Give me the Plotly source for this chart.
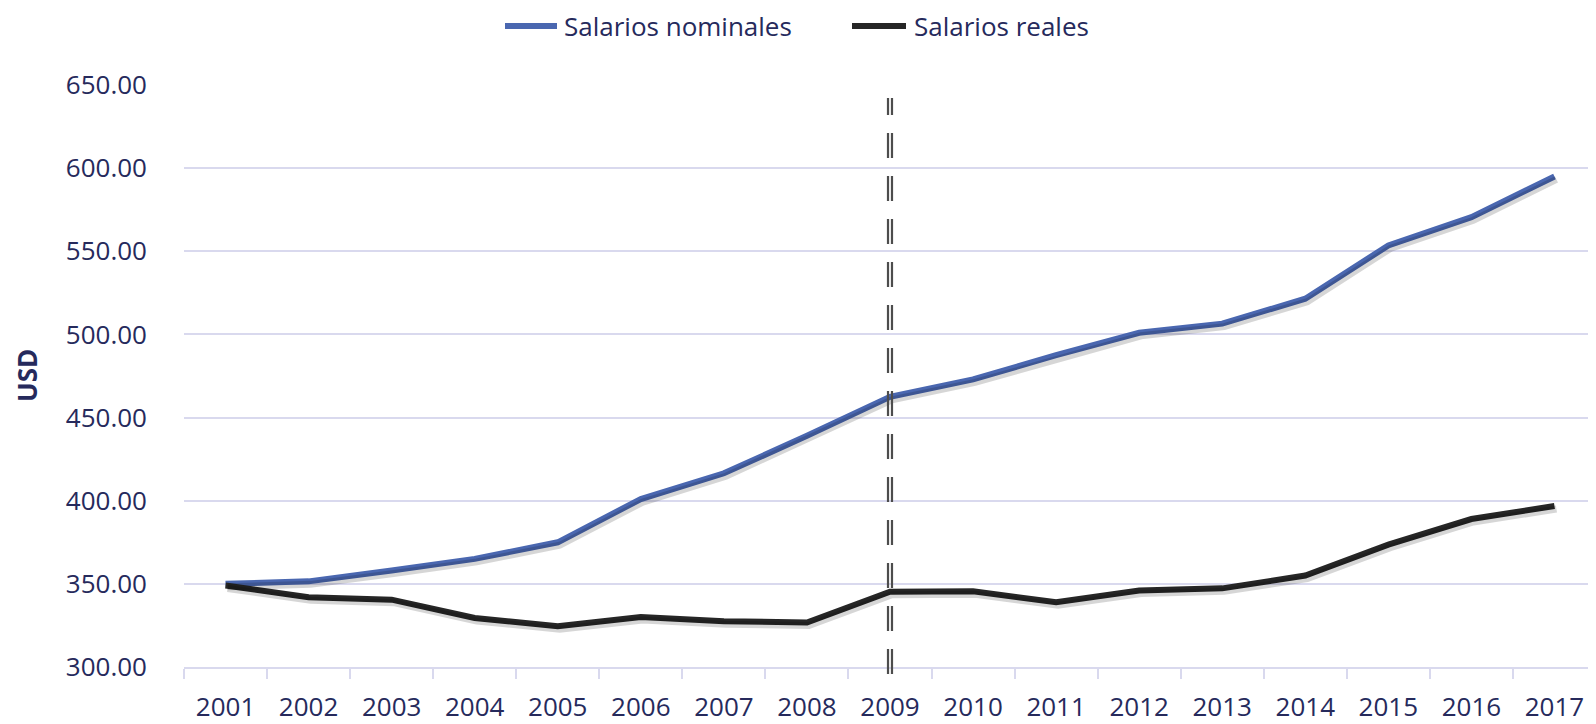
import plotly.graph_objects as go

years = ["2001", "2002", "2003", "2004", "2005", "2006", "2007", "2008", "2009",
         "2010", "2011", "2012", "2013", "2014", "2015", "2016", "2017"]
salarios_nominales = [350.0, 351.5, 358.0, 365.0, 375.0, 401.0, 416.5, 439.0, 462.5,
                      473.0, 487.5, 501.0, 506.5, 521.5, 553.5, 570.5, 595.0]
salarios_reales = [349.0, 342.0, 340.5, 329.5, 324.5, 330.0, 327.5, 326.8, 345.3,
                   345.5, 339.0, 346.0, 347.3, 355.0, 373.6, 389.0, 396.8]
y_ticks = [300, 350, 400, 450, 500, 550, 600, 650]
break_year = "2009"
series_names = ["Salarios nominales", "Salarios reales"]
series_colors = ["#4A67B0", "#262626"]

TEXT = "#262A5C"
GRID = "#D9D9EE"
FONT = "Open Sans"

# the page body adds an 8px offset; size the figure to fill the window
OFF = 8
W, H = 1596 - OFF, 724 - OFF
L, R, T = 184 - OFF, 0, 85 - OFF
B = H - (667 - OFF)
PW, PH = W - L - R, H - T - B
Y_RANGE = [300, 650]
X_RANGE = [-0.5, len(years) - 0.5]


def px_x(px):  # page pixel -> paper x
    return (px - OFF - L) / PW


def px_y(py):  # page pixel -> paper y
    return (H - B - (py - OFF)) / PH


# shadow axes: same scale, shifted a few pixels down/right
sh_dy = 3 * (Y_RANGE[1] - Y_RANGE[0]) / PH
sh_dx = 2 * (X_RANGE[1] - X_RANGE[0]) / PW

fig = go.Figure()
for name, vals in zip(series_names, [salarios_nominales, salarios_reales]):
    fig.add_trace(go.Scatter(x=years, y=vals, mode="lines", name=name + " (sombra)",
                             showlegend=False, hoverinfo="skip",
                             xaxis="x2", yaxis="y2",
                             line=dict(color="rgba(0,0,0,0.16)", width=7)))
for name, vals, col in zip(series_names, [salarios_nominales, salarios_reales], series_colors):
    fig.add_trace(go.Scatter(x=years, y=vals, mode="lines", name=name,
                             showlegend=False,
                             line=dict(color=col, width=6)))

bi = years.index(break_year)
for off in (-0.024, 0.024):
    fig.add_shape(type="line", xref="x", yref="paper",
                  x0=bi + off, x1=bi + off, y0=px_y(674), y1=px_y(98),
                  line=dict(color="#4D4D4D", width=2.2, dash="25px,18px"))

# custom legend (line samples + labels)
LEG_Y = 26
legend_items = [(505, 557, 563), (852, 906, 913)]
for (x0, x1, xt), name, col in zip(legend_items, series_names, series_colors):
    fig.add_shape(type="line", xref="paper", yref="paper",
                  x0=px_x(x0), x1=px_x(x1), y0=px_y(LEG_Y), y1=px_y(LEG_Y),
                  line=dict(color=col, width=6))
    fig.add_annotation(text=name, xref="paper", yref="paper",
                       x=px_x(xt), y=px_y(LEG_Y), xanchor="left", yanchor="middle",
                       showarrow=False, borderpad=0,
                       font=dict(family=FONT, size=26, color=TEXT))

fig.add_annotation(text="<b>USD</b>", xref="paper", yref="paper",
                   x=px_x(27), y=0.5, xanchor="center", yanchor="middle",
                   textangle=-90, showarrow=False, borderpad=0,
                   font=dict(family=FONT, size=26, color=TEXT))

fig.update_layout(
    width=W, height=H,
    margin=dict(l=L, r=R, t=T, b=B, autoexpand=False),
    paper_bgcolor="white", plot_bgcolor="white",
    font=dict(family=FONT, color=TEXT, size=26),
    showlegend=False,
    xaxis=dict(type="category", range=X_RANGE,
               showgrid=False, showline=True, linecolor=GRID, linewidth=2,
               ticks="outside", tickson="boundaries", ticklen=10,
               tickcolor=GRID, tickwidth=2, ticklabelstandoff=16,
               automargin=False,
               tickfont=dict(family=FONT, size=26, color=TEXT)),
    yaxis=dict(range=Y_RANGE, tickvals=y_ticks, tickformat=".2f",
               showgrid=True, gridcolor=GRID, gridwidth=2,
               zeroline=False, showline=False, ticks="",
               ticklabelstandoff=36, automargin=False,
               tickfont=dict(family=FONT, size=26, color=TEXT)),
    xaxis2=dict(type="category", overlaying="x",
                range=[X_RANGE[0] - sh_dx, X_RANGE[1] - sh_dx],
                visible=False, showgrid=False),
    yaxis2=dict(overlaying="y", range=[Y_RANGE[0] + sh_dy, Y_RANGE[1] + sh_dy],
                visible=False, showgrid=False, zeroline=False),
)

fig.write_html("out.html")
